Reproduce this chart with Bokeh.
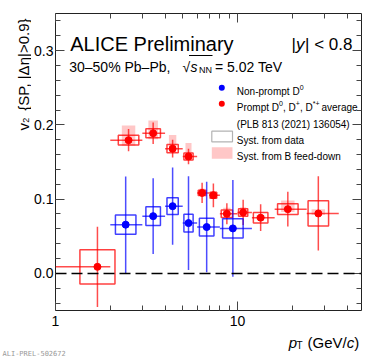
import numpy as np
from bokeh.plotting import figure
from bokeh.layouts import row, column
from bokeh.models import (Range1d, LinearAxis, LogAxis, FixedTicker, SingleIntervalTicker,
                          PrintfTickFormatter, CustomJSTickFormatter, Label, Span, BoxAnnotation)
from bokeh.embed import file_html
from bokeh.resources import INLINE

# ---------------- data ----------------
# Non-prompt D0
np_pt = [2.43, 3.44, 4.40, 5.38, 6.77, 9.43]
np_lo = [2, 3, 4, 5, 6, 8]
np_hi = [3, 4, 5, 6, 8, 12]
np_v2 = [0.0656, 0.0771, 0.0905, 0.0677, 0.0624, 0.0606]
np_stat = [0.065, 0.051, 0.052, 0.063, 0.061, 0.065]
np_syst = [0.013, 0.0127, 0.0113, 0.012, 0.012, 0.013]

# Prompt D average
pr_pt = [1.70, 2.52, 3.44, 4.40, 5.38, 6.39, 7.37, 8.74, 10.74, 13.4, 18.9, 27.8]
pr_lo = [1, 2, 3, 4, 5, 6, 7, 8, 10, 12, 16, 24]
pr_hi = [2, 3, 4, 5, 6, 7, 8, 10, 12, 16, 24, 36]
pr_v2 = [0.0088, 0.1794, 0.1888, 0.168, 0.1575, 0.1084, 0.1052, 0.0803, 0.082, 0.075, 0.0865, 0.0807]
pr_stat = [0.054, 0.015, 0.0145, 0.012, 0.0105, 0.0137, 0.016, 0.014, 0.017, 0.018, 0.0235, 0.050]
pr_syst = [0.023, 0.0065, 0.006, 0.0057, 0.0047, 0.0036, 0.004, 0.005, 0.005, 0.007, 0.0072, 0.017]
pr_fd_lo = [0.0, 0.0074, 0.008, 0.005, 0.0055, 0.003, 0.003, 0.002, 0.002, 0.002, 0.004, 0.002]
pr_fd_hi = [0.0, 0.0196, 0.017, 0.0185, 0.018, 0.006, 0.005, 0.008, 0.007, 0.003, 0.0115, 0.0055]

y_ticks_interval = 0.1
x_major_ticks = [1, 10]
x_minor_ticks = [2, 3, 4, 5, 6, 7, 8, 9, 20, 30, 40]

FONT = "Liberation Sans"
BLUE = "#0000ff"
RED = "#ff0000"

YW = 31      # width of the y-title strip
MAIN_W, MAIN_H = 339, 332
XH = 25      # height of the x-title strip
FRAME_BOTTOM = 310

# ---------------- main figure ----------------
p = figure(width=MAIN_W, height=MAIN_H, x_axis_type="log", x_range=Range1d(1, 48), y_range=Range1d(-0.05, 0.35),
           output_backend="svg", toolbar_location=None,
           min_border_left=53 - YW, min_border_right=9, min_border_top=13, min_border_bottom=MAIN_H - FRAME_BOTTOM)
p.background_fill_color = "white"
p.border_fill_color = "white"
p.grid.visible = False
p.outline_line_color = "#222222"
p.outline_line_width = 1

def style_axis(ax, show_labels):
    ax.axis_line_color = None
    ax.major_tick_in = 9
    ax.major_tick_out = 0
    ax.minor_tick_in = 5
    ax.minor_tick_out = 0
    ax.major_tick_line_color = "#444444"
    ax.minor_tick_line_color = "#444444"
    ax.major_label_text_font = FONT
    ax.major_label_text_font_size = "14px"
    ax.major_label_text_color = "black"
    if not show_labels:
        ax.formatter = CustomJSTickFormatter(code="return ''")
        ax.major_label_standoff = 0

xt = FixedTicker(ticks=x_major_ticks, minor_ticks=x_minor_ticks)
p.xaxis.ticker = xt
p.xaxis.formatter = PrintfTickFormatter(format="%d")
style_axis(p.xaxis[0], True)
p.xaxis.major_label_standoff = 5
yt = SingleIntervalTicker(interval=y_ticks_interval, num_minor_ticks=5)
p.yaxis.ticker = yt
p.yaxis.formatter = PrintfTickFormatter(format="%.1f")
style_axis(p.yaxis[0], True)
p.yaxis.major_label_standoff = 2
top_ax = LogAxis(ticker=FixedTicker(ticks=x_major_ticks, minor_ticks=x_minor_ticks))
style_axis(top_ax, False)
p.add_layout(top_ax, "above")
right_ax = LinearAxis(ticker=SingleIntervalTicker(interval=y_ticks_interval, num_minor_ticks=5))
style_axis(right_ax, False)
p.add_layout(right_ax, "right")

p.add_layout(Span(location=0, dimension="width", line_color="black", line_width=1.5, line_dash="11 5"))

def boxes(pt, lo, hi, frac):
    lp = np.log10(pt)
    w = frac * (np.log10(hi) - np.log10(lo))
    return 10 ** (lp - w), 10 ** (lp + w)

# ---- prompt (red)
pr_pt_a = np.array(pr_pt); pr_v2_a = np.array(pr_v2)
fl, fr = boxes(pr_pt_a, np.array(pr_lo), np.array(pr_hi), 0.21)
p.quad(left=fl, right=fr, bottom=pr_v2_a - np.array(pr_fd_lo), top=pr_v2_a + np.array(pr_fd_hi),
       fill_color=RED, fill_alpha=0.22, line_color=None)
bl, br = boxes(pr_pt_a, np.array(pr_lo), np.array(pr_hi), 0.32)
p.quad(left=bl, right=br, bottom=pr_v2_a - np.array(pr_syst), top=pr_v2_a + np.array(pr_syst),
       fill_color=None, line_color=RED, line_width=1.5, line_alpha=0.75)
p.segment(x0=pr_lo, y0=pr_v2, x1=pr_hi, y1=pr_v2, line_color=RED, line_width=1.5, line_alpha=0.7)
p.segment(x0=pr_pt, y0=pr_v2_a - np.array(pr_stat), x1=pr_pt, y1=pr_v2_a + np.array(pr_stat),
          line_color=RED, line_width=1.5, line_alpha=0.7)
p.scatter(pr_pt, pr_v2, size=7, color=RED)

# ---- non-prompt (blue)
np_pt_a = np.array(np_pt); np_v2_a = np.array(np_v2)
bl, br = boxes(np_pt_a, np.array(np_lo), np.array(np_hi), 0.32)
p.quad(left=bl, right=br, bottom=np_v2_a - np.array(np_syst), top=np_v2_a + np.array(np_syst),
       fill_color=None, line_color=BLUE, line_width=1.5, line_alpha=0.75)
p.segment(x0=np_lo, y0=np_v2, x1=np_hi, y1=np_v2, line_color=BLUE, line_width=1.5, line_alpha=0.7)
p.segment(x0=np_pt, y0=np_v2_a - np.array(np_stat), x1=np_pt, y1=np_v2_a + np.array(np_stat),
          line_color=BLUE, line_width=1.5, line_alpha=0.7)
p.scatter(np_pt, np_v2, size=7, color=BLUE)

# ---------------- texts ----------------
def lab(fig, x, y, text, size, style="normal", align="left", baseline="alphabetic", angle=0, color="black",
        font=FONT):
    fig.add_layout(Label(x=x, y=y, x_units="screen", y_units="screen", text=text,
                         text_font=font, text_font_size=f"{size}px", text_font_style=style,
                         text_align=align, text_baseline=baseline, angle=angle, text_color=color))

def sbox(fig, l, r, b, t, **kw):
    fig.add_layout(BoxAnnotation(left=l, right=r, bottom=b, top=t, left_units="screen", right_units="screen",
                                 bottom_units="screen", top_units="screen", **kw))

lab(p, 14.7, 266.3, "ALICE Preliminary", 20)
lab(p, 236, 266.3, "|", 17)
lab(p, 240.6, 266.3, "y", 17, style="italic")
lab(p, 249.5, 266.3, "| < 0.8", 17)

lab(p, 13.7, 243.3, "30\u201350% Pb\u2013Pb,", 14)
lab(p, 127, 243.3, "\u221a", 14)
lab(p, 135, 243.3, "s", 14, style="italic")
lab(p, 143.5, 240.3, "NN", 9)
lab(p, 159.5, 243.3, "= 5.02 TeV", 14)
sbox(p, 133.5, 157, 254.6, 255.6, fill_color="black", fill_alpha=1, line_color=None)

# legend
sbox(p, 163.3, 169.3, 219.7, 225.7, fill_color=BLUE, fill_alpha=1, line_color=None, border_radius=3)
sbox(p, 163.3, 169.3, 203.7, 209.7, fill_color=RED, fill_alpha=1, line_color=None, border_radius=3)
lab(p, 181.3, 219.2, "Non-prompt D", 10)
lab(p, 244.2, 223.5, "0", 7)
lab(p, 181.3, 203.2, "Prompt D", 10)
lab(p, 223.6, 207.5, "0", 7)
lab(p, 227.5, 203.2, ", D", 10)
lab(p, 240.3, 207.5, "+", 7)
lab(p, 244.5, 203.2, ", D", 10)
lab(p, 257.3, 207.5, "*+", 7)
lab(p, 266, 203.2, "average", 10)
lab(p, 181.3, 186.5, "(PLB 813 (2021) 136054)", 10)
sbox(p, 156.3, 177, 168.7, 179.3, fill_color=None, line_color="black", line_width=1.2)
lab(p, 181.3, 170.5, "Syst. from data", 10)
sbox(p, 156.3, 177, 151.7, 163.3, fill_color=RED, fill_alpha=0.22, line_color=None)
lab(p, 181.3, 153.8, "Syst. from B feed-down", 10)

# ---------------- y-title strip ----------------
def strip(w, h):
    f = figure(width=w, height=h, x_range=Range1d(0, 1), y_range=Range1d(0, 1), output_backend="svg",
               toolbar_location=None, x_axis_location=None, y_axis_location=None,
               min_border_left=0, min_border_right=0, min_border_top=0, min_border_bottom=0)
    f.grid.visible = False
    f.outline_line_color = None
    f.background_fill_color = "white"
    f.border_fill_color = "white"
    return f

# the strip's frame is aligned with the main frame, so its bottom sits at FRAME_BOTTOM
yfig = strip(YW, MAIN_H)
ANG = np.pi / 2
lab(yfig, 23, FRAME_BOTTOM - 130, "v", 15, angle=ANG)
lab(yfig, 25, FRAME_BOTTOM - 122.3, "2", 9, angle=ANG)
lab(yfig, 23, FRAME_BOTTOM - 18, "{SP, |\u0394\u03b7|>0.9}", 15, align="right", angle=ANG)

# ---------------- x-title strip ----------------
TOT_W = YW + MAIN_W
TOT_H = MAIN_H + XH
xfig = strip(TOT_W, XH)
lab(xfig, 288.3, TOT_H - 342.3, "p", 15, style="italic")
lab(xfig, 296, TOT_H - 345, "T", 10)
lab(xfig, 307, TOT_H - 342.3, "(GeV/", 15)
lab(xfig, 346.2, TOT_H - 342.3, "c", 15, style="italic")
lab(xfig, 353.7, TOT_H - 342.3, ")", 15)
lab(xfig, 2, TOT_H - 353, "ALI-PREL-502672", 7, color="#999999", font="DejaVu Sans Mono")

layout = column(row(yfig, p, spacing=0), xfig, spacing=0)
open("out.html", "w").write(file_html(layout, INLINE))
